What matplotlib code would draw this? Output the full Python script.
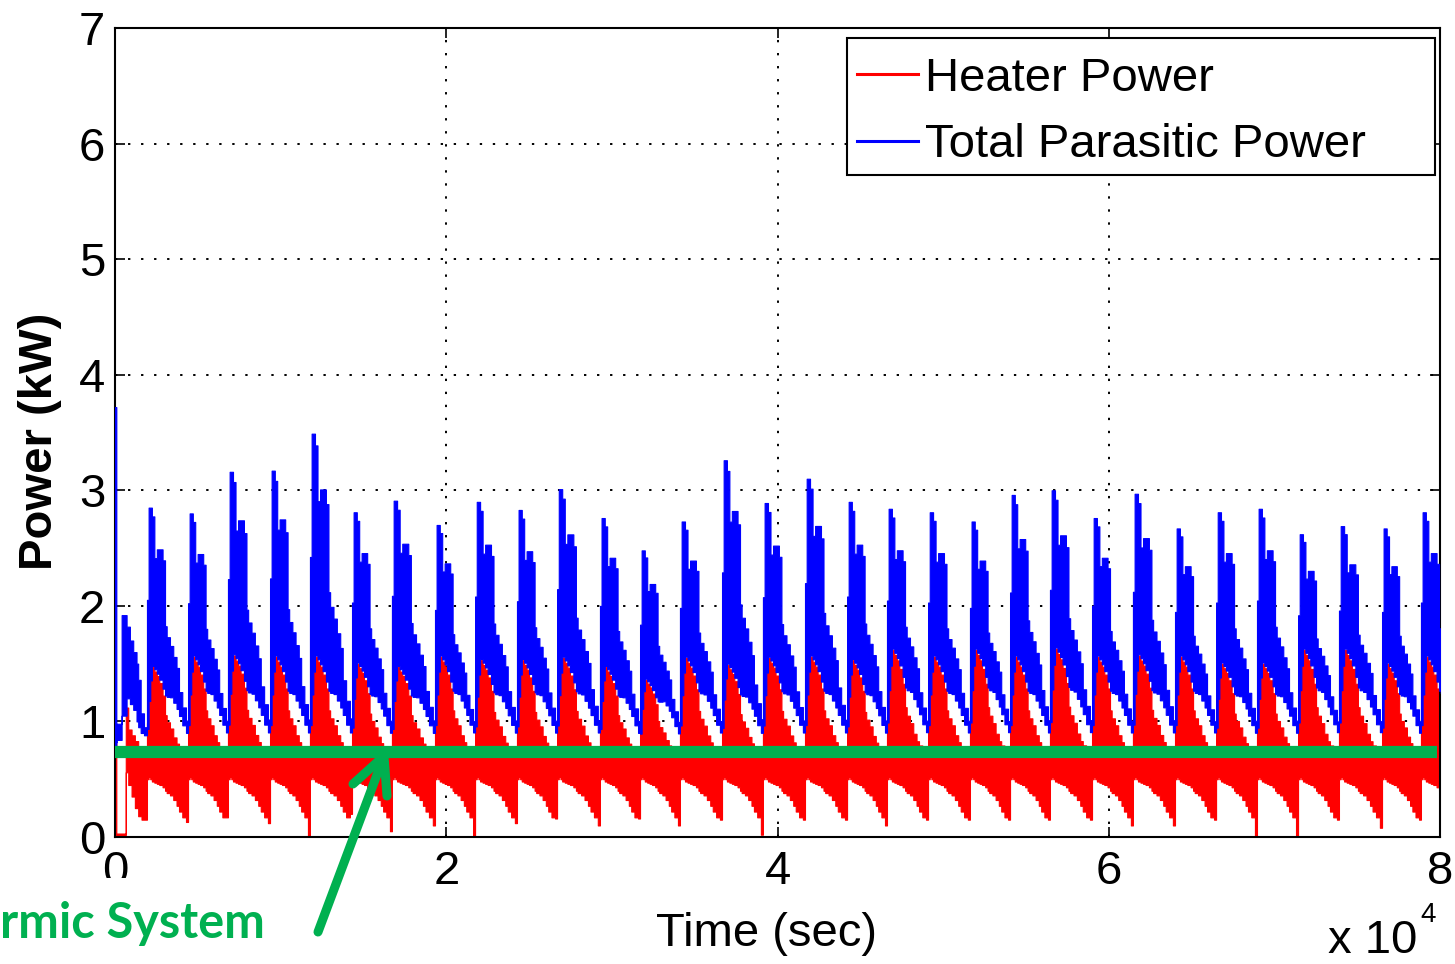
import matplotlib
matplotlib.use("Agg")
import matplotlib.pyplot as plt
from matplotlib.lines import Line2D
from matplotlib.patches import Rectangle

# ── Data ─────────────────────────────────────────────────────────
# start time (s) of each heating cycle
cycle_start = [1930, 4410, 6820, 9360, 11770, 14310, 16720, 19320, 21740, 24270,
               26690, 29280, 31700, 34110, 36650, 39120, 41660, 44200, 46610, 49090,
               51620, 54040, 56450, 58990, 61460, 64000, 66480, 68950, 71430, 73900,
               76500, 78850]
# peak of the blue band in each cycle (kW)
blue_peak = [2.85, 2.80, 3.16, 3.17, 3.49, 2.81, 2.91, 2.70, 2.90, 2.83,
             3.01, 2.76, 2.48, 2.73, 3.26, 2.89, 3.10, 2.90, 2.84, 2.81,
             2.73, 2.96, 3.00, 2.76, 2.97, 2.67, 2.81, 2.84, 2.62, 2.69,
             2.67, 2.81]
# peak of the red band in each cycle (kW)
red_peak = [1.47, 1.56, 1.57, 1.56, 1.56, 1.50, 1.47, 1.56, 1.53, 1.53,
            1.55, 1.47, 1.36, 1.55, 1.49, 1.55, 1.56, 1.53, 1.62, 1.56,
            1.62, 1.56, 1.63, 1.56, 1.57, 1.56, 1.50, 1.50, 1.62, 1.62,
            1.50, 1.56]
# lowest red value at the end of each cycle (kW)
red_min = [0.13, 0.17, 0.12, 0.00, 0.20, 0.05, 0.10, 0.00, 0.12, 0.16,
           0.10, 0.16, 0.10, 0.15, 0.02, 0.15, 0.15, 0.10, 0.15, 0.15,
           0.15, 0.15, 0.15, 0.10, 0.10, 0.15, 0.00, 0.00, 0.15, 0.08,
           0.15, 0.30]

# typical cycle, read from one cycle (phase 0..1)
phase        = [0.00, 0.04, 0.08, 0.12, 0.18, 0.24, 0.30, 0.38, 0.44, 0.48,
                0.56, 0.64, 0.72, 0.78, 0.86, 0.95]
blue_hi_part = [0.58, 1.00, 1.00, 0.96, 0.77, 0.81, 0.81, 0.76, 0.46, 0.41,
                0.37, 0.32, 0.27, 0.16, 0.09, 0.03]
red_hi_part  = [0.37, 0.62, 0.85, 1.00, 0.95, 0.90, 0.82, 0.68, 0.46, 0.38,
                0.31, 0.21, 0.14, 0.10, 0.06, 0.04]
blue_gap     = [-0.05, 0.00, 0.00, 0.01, 0.02, 0.02, 0.03, 0.06, 0.17, 0.22,
                0.27, 0.30, 0.30, 0.27, 0.22, 0.17]
red_lo_cyc   = [0.50, 0.52, 0.50, 0.48, 0.47, 0.46, 0.45, 0.43, 0.40, 0.38,
                0.36, 0.32, 0.27, 0.22, 0.17, None]

# start-up, before the first cycle
blue_t0  = [0, 80, 110, 400, 700, 900, 1100, 1300, 1400, 1550, 1750]
blue_hi0 = [3.72, 0.95, 0.98, 1.92, 1.82, 1.70, 1.60, 1.50, 1.36, 1.07, 0.95]
blue_lo0 = [0.70, 0.82, 0.84, 1.05, 1.20, 1.15, 1.10, 1.00, 0.95, 0.90, 0.88]
red_t0   = [0, 80, 650, 800, 1000, 1200, 1400, 1600, 1800]
red_hi0  = [0.81, 0.03, 1.12, 0.93, 0.88, 0.83, 0.78, 0.74, 0.70]
red_lo0  = [0.00, 0.00, 0.56, 0.45, 0.35, 0.25, 0.18, 0.15, 0.15]

GREEN_LEVEL = 0.735
T_END = 80000

# ── Envelope knots ───────────────────────────────────────────────
def cycle_len(i):
    if i + 1 < len(cycle_start):
        return cycle_start[i + 1] - cycle_start[i]
    return 2480

tb, bh, bl = list(blue_t0), list(blue_hi0), list(blue_lo0)
tr, rh, rl = list(red_t0), list(red_hi0), list(red_lo0)
for i, t0 in enumerate(cycle_start):
    p = cycle_len(i)
    for k, f in enumerate(phase):
        t = t0 + f * p
        r_top = 0.70 + (red_peak[i] - 0.70) * red_hi_part[k]
        tr.append(t)
        rh.append(r_top)
        rl.append(red_min[i] if red_lo_cyc[k] is None else red_lo_cyc[k])
        tb.append(t)
        bh.append(0.95 + (blue_peak[i] - 0.95) * blue_hi_part[k])
        bl.append(r_top + blue_gap[k])
tb.append(T_END + 3000); bh.append(bh[-1]); bl.append(bl[-1])
tr.append(T_END + 3000); rh.append(rh[-1]); rl.append(rl[-1])

# ── Figure ───────────────────────────────────────────────────────
plt.rcParams["font.family"] = ["Liberation Sans", "DejaVu Sans"]
FS = 34
W, H = 1455, 964

fig = plt.figure(figsize=(W / 100, H / 100), dpi=100)
ax = fig.add_axes([115 / W, 1 - 837 / H, 1325 / W, 809 / H])

ax.fill_between(tr, rl, rh, step="post", color="#FF0000", lw=0.8, zorder=2)
ax.fill_between(tb, bl, bh, step="post", color="#0000FF", lw=0.8, zorder=3)
ax.axhline(GREEN_LEVEL, xmin=0, xmax=0.998, color="#00B050", lw=8.8,
           solid_capstyle="butt", zorder=4)

ax.set_xlim(0, T_END)
ax.set_ylim(0, 7)
ax.set_xticks([0, 20000, 40000, 60000, 80000])
ax.set_xticklabels(["0", "2", "4", "6", "8"])
ax.set_yticks(range(8))
ax.tick_params(direction="in", length=7, width=1.2, top=True, right=True,
               labelsize=FS, colors="black")
ax.tick_params(axis="x", pad=9)
ax.tick_params(axis="y", pad=7)
ax.grid(True, color="black", linestyle=(0, (1.2, 5.5)), linewidth=1.4)
ax.set_axisbelow(True)
for sp in ax.spines.values():
    sp.set_linewidth(1.5)

# legend with MATLAB-like wide box
ax.add_patch(Rectangle((0.5525, 0.8183), 0.99623 - 0.5525, 0.98764 - 0.8183,
                       transform=ax.transAxes, facecolor="white",
                       edgecolor="black", lw=1.5, zorder=5))
handles = [Line2D([], [], color="#FF0000", lw=2.2),
           Line2D([], [], color="#0000FF", lw=2.2)]
ax.legend(handles, ["Heater Power", "Total Parasitic Power"],
          loc="upper left", bbox_to_anchor=(0.5457, 0.98764), frameon=False,
          fontsize=FS, borderpad=0.4, labelspacing=0.47, handlelength=1.3,
          handletextpad=0.15, borderaxespad=0).set_zorder(6)

# labels
fig.text(40 / W, 1 - 441 / H, "Power (kW)", rotation=90, ha="center",
         va="center", fontsize=FS, fontweight="bold")
fig.text(766 / W, 1 - 946 / H, "Time (sec)", ha="center", va="baseline",
         fontsize=FS)
fig.text(1328 / W, 1 - 953 / H, "x 10", ha="left", va="baseline", fontsize=FS)
fig.text(1420 / W, 1 - 922 / H, "4", ha="left", va="baseline", fontsize=20)

# text box overlay and arrow
fig.add_artist(Rectangle((0, 0), 300 / W, (H - 878) / H, transform=fig.transFigure,
                         facecolor="white", edgecolor="none", zorder=10))
fig.text(265 / W, 1 - 938 / H, "rmic System", ha="right", va="baseline",
         fontsize=35, fontweight="bold", color="#00B050",
         family=["Lato", "DejaVu Sans"], zorder=11)

def px(x, y):
    return x / W, 1 - y / H

tip, tail = (384, 756), (318, 932)
barb_l, barb_r = (353, 784), (387, 796)
for a, b in [(tip, tail), (barb_l, tip), (tip, barb_r)]:
    (x0, y0), (x1, y1) = px(*a), px(*b)
    fig.add_artist(Line2D([x0, x1], [y0, y1], transform=fig.transFigure,
                          color="#00B050", lw=6.5, solid_capstyle="round",
                          zorder=12))

fig.savefig("out.png", dpi=100)
